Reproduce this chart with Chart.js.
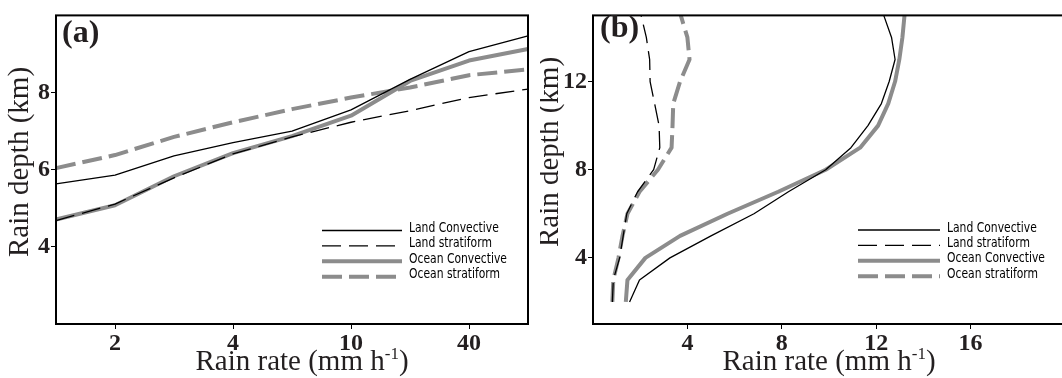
<!DOCTYPE html>
<html>
<head>
<meta charset="utf-8">
<script src="https://cdn.jsdelivr.net/npm/chart.js@4.4.1/dist/chart.umd.min.js"></script>
<style>
  html, body { margin: 0; padding: 0; background: #fff; overflow: hidden; }
  #wrap { position: relative; width: 1062px; height: 378px; overflow: hidden; }
  canvas { position: absolute; top: 0; }
</style>
</head>
<body>
<div id="wrap">
  <canvas id="chartA" width="540" height="378" style="left:0"></canvas>
  <canvas id="chartB" width="540" height="378" style="left:540px"></canvas>
</div>
<script>
// ---- data (a): rain depth vs rain-rate class ----
const rainRateA = ['1', '2', '3', '4', '6', '10', '20', '40', '60'];
const xTickLabelsA = ['2', '4', '10', '40'];
const yTicksA = [4, 6, 8];
const landConvA   = [5.63, 5.86, 6.36, 6.70, 7.00, 7.55, 8.34, 9.06, 9.47];
const landStratA  = [4.68, 5.11, 5.79, 6.41, 6.85, 7.23, 7.53, 7.87, 8.09];
const oceanConvA  = [4.71, 5.08, 5.83, 6.43, 6.87, 7.40, 8.30, 8.83, 9.13];
const oceanStratA = [6.04, 6.38, 6.85, 7.23, 7.57, 7.87, 8.13, 8.45, 8.60];

// ---- data (b): rain rate profile vs height ----
const depthB = [2, 3, 4, 5, 6, 7, 8, 9, 10, 11, 12, 13, 14, 15];
const xTicksB = [4, 8, 12, 16];
const yTicksB = [4, 8, 12];
const landConvB   = [1.55, 1.97, 3.26, 5.0, 6.82, 8.28, 9.86, 10.93, 11.65, 12.22, 12.55, 12.8, 12.65, 12.32];
const landStratB  = [0.82, 0.86, 1.13, 1.28, 1.43, 1.89, 2.57, 2.83, 2.80, 2.61, 2.42, 2.40, 2.26, 2.04];
const oceanConvB  = [1.39, 1.46, 2.22, 3.69, 5.70, 7.85, 9.86, 11.32, 12.08, 12.51, 12.80, 12.98, 13.11, 13.20];
const oceanStratB = [0.82, 0.86, 1.08, 1.25, 1.46, 1.97, 2.75, 3.33, 3.37, 3.40, 3.69, 4.09, 4.00, 3.72];

const seriesNames = ['Land Convective', 'Land stratiform', 'Ocean Convective', 'Ocean stratiform'];

const ink = '#231f20';
const gray = '#8c8c8c';
const serif = '"Liberation Serif", "Times New Roman", serif';

// line styles shared by both panels
const styles = [
  { borderColor: '#000', borderWidth: 1.3, borderDash: [] },
  { borderColor: '#000', borderWidth: 1.3, borderDash: [19, 8] },
  { borderColor: gray, borderWidth: 4, borderDash: [] },
  { borderColor: gray, borderWidth: 4, borderDash: [20, 7] }
];

function makeSets(list) {
  return list.map((d, i) => Object.assign({
    label: seriesNames[i],
    data: d,
    pointRadius: 0,
    tension: 0,
    fill: false,
    borderJoinStyle: 'round'
  }, styles[i]));
}

// frame, panel letter, axis titles and legend
const decor = {
  id: 'decor',
  afterDraw(chart, args, o) {
    const { ctx, chartArea: a } = chart;
    ctx.save();
    ctx.strokeStyle = '#000';
    ctx.lineWidth = 2;
    ctx.strokeRect(a.left, a.top, a.right - a.left, a.bottom - a.top);

    ctx.fillStyle = ink;
    ctx.textAlign = 'left';
    ctx.textBaseline = 'alphabetic';
    ctx.font = 'bold 32px ' + serif;
    ctx.fillText(o.panel, o.panelX, o.panelY);

    // x title with superscript
    const big = '29px ' + serif, small = '17px ' + serif;
    const p1 = 'Rain rate (mm h', p2 = '-1', p3 = ')';
    ctx.font = big;
    const w1 = ctx.measureText(p1).width, w3 = ctx.measureText(p3).width;
    ctx.font = small;
    const w2 = ctx.measureText(p2).width;
    let x = o.xTitleX - (w1 + w2 + w3) / 2;
    ctx.font = big;
    ctx.fillText(p1, x, o.xTitleY);
    ctx.font = small;
    ctx.fillText(p2, x + w1, o.xTitleY - 11);
    ctx.font = big;
    ctx.fillText(p3, x + w1 + w2, o.xTitleY);

    // y title
    ctx.save();
    ctx.translate(o.yTitleX, o.yTitleY);
    ctx.rotate(-Math.PI / 2);
    ctx.textAlign = 'center';
    ctx.fillText('Rain depth (km)', 0, 0);
    ctx.restore();

    // legend (narrow plotter-like lettering)
    ctx.font = '14px "Liberation Sans Narrow", "DejaVu Sans Condensed", sans-serif';
    ctx.fillStyle = '#000';
    const sx = Math.min(1, 98 / ctx.measureText('Ocean Convective').width);
    chart.data.datasets.forEach((ds, i) => {
      const y = o.legY + i * 15.4;
      ctx.save();
      ctx.strokeStyle = ds.borderColor;
      ctx.lineWidth = ds.borderWidth;
      ctx.setLineDash(ds.borderDash);
      ctx.beginPath();
      ctx.moveTo(o.legX, y);
      ctx.lineTo(o.legX + o.legLen, y);
      ctx.stroke();
      ctx.restore();
      ctx.save();
      ctx.translate(o.legX + o.legLen + 7, y + 1.5);
      ctx.scale(sx, 1);
      ctx.fillText(ds.label, 0, 0);
      ctx.restore();
    });
    ctx.restore();
  }
};

const tickFont = { family: serif, size: 24, weight: 'bold' };
const gridOpt = { drawOnChartArea: false, drawTicks: true, tickLength: 5, color: '#000', lineWidth: 1 };

// Panel (a)
new Chart(document.getElementById('chartA'), {
  type: 'line',
  data: {
    labels: rainRateA,
    datasets: makeSets([landConvA, landStratA, oceanConvA, oceanStratA])
  },
  options: {
    responsive: false,
    animation: false,
    layout: { padding: { left: 0, top: 10, right: 12, bottom: 0 } },
    plugins: {
      legend: { display: false },
      tooltip: { enabled: false },
      decor: { panel: '(a)', panelX: 62, panelY: 42, xTitleX: 302, xTitleY: 370,
               yTitleX: 28, yTitleY: 162, legX: 322, legY: 230.5, legLen: 80 }
    },
    scales: {
      x: {
        type: 'category',
        offset: false,
        grid: gridOpt,
        border: { display: false },
        ticks: { font: tickFont, color: ink, padding: 0, maxRotation: 0, autoSkip: false },
        afterBuildTicks: s => { s.ticks = xTickLabelsA.map(l => ({ value: rainRateA.indexOf(l) })); },
        afterFit: s => { s.height = 54; }
      },
      y: {
        min: 2, max: 10,
        grid: gridOpt,
        border: { display: false },
        ticks: { font: tickFont, color: ink, padding: 1 },
        afterBuildTicks: s => { s.ticks = yTicksA.map(v => ({ value: v })); },
        afterFit: s => { s.width = 56; }
      }
    }
  },
  plugins: [decor]
});

// Panel (b)
const toXY = arr => arr.map((r, i) => ({ x: r, y: depthB[i] }));
new Chart(document.getElementById('chartB'), {
  type: 'scatter',
  data: {
    datasets: makeSets([landConvB, landStratB, oceanConvB, oceanStratB].map(toXY))
      .map(d => Object.assign(d, { showLine: true }))
  },
  options: {
    responsive: false,
    animation: false,
    layout: { padding: { left: 0, top: 10, right: 15, bottom: 0 } },
    plugins: {
      legend: { display: false },
      tooltip: { enabled: false },
      decor: { panel: '(b)', panelX: 60, panelY: 37, xTitleX: 289, xTitleY: 370,
               yTitleX: 18, yTitleY: 152, legX: 318, legY: 230, legLen: 82 }
    },
    scales: {
      x: {
        type: 'linear',
        min: 0, max: 20,
        grid: gridOpt,
        border: { display: false },
        ticks: { font: tickFont, color: ink, padding: 0, maxRotation: 0 },
        afterBuildTicks: s => { s.ticks = xTicksB.map(v => ({ value: v })); },
        afterFit: s => { s.height = 54; }
      },
      y: {
        min: 1, max: 15,
        grid: gridOpt,
        border: { display: false },
        ticks: { font: tickFont, color: ink, padding: 1 },
        afterBuildTicks: s => { s.ticks = yTicksB.map(v => ({ value: v })); },
        afterFit: s => { s.width = 53; }
      }
    }
  },
  plugins: [decor]
});
</script>
</body>
</html>
